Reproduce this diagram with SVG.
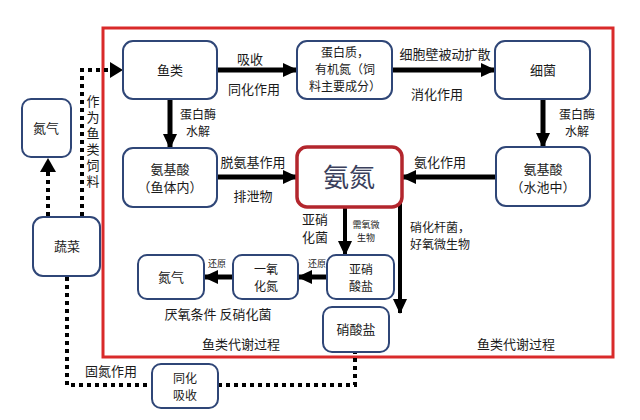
<svg xmlns="http://www.w3.org/2000/svg" width="640" height="420" viewBox="0 0 640 420">
<defs>
<marker id="ah" markerUnits="userSpaceOnUse" markerWidth="16" markerHeight="16" refX="14" refY="8" orient="auto">
<path d="M0,1 L15,8 L0,15 Z" fill="#000"/>
</marker>
<style>
.n rect{fill:#fff;stroke:#2f4677;stroke-width:2}
text{font-family:"Noto Sans CJK SC","Noto Sans",sans-serif;font-size:13px;fill:#1a1a1a;text-anchor:middle}
.m{font-size:12px}
.s{font-size:9px}
.big{font-size:26px;fill:#3a3f5c}
.a{stroke:#000;stroke-width:5;fill:none;marker-end:url(#ah)}
.d{stroke:#000;stroke-width:4;fill:none;stroke-dasharray:4 4}
</style>
</defs>
<rect width="640" height="420" fill="#fff"/>
<rect x="103" y="28" width="510" height="329" fill="none" stroke="#d92a2a" stroke-width="3"/>

<g id="connectors">
<line class="a" x1="217" y1="70" x2="297" y2="70"/>
<line class="a" x1="392" y1="70" x2="495" y2="70"/>
<line class="a" x1="543" y1="99" x2="543" y2="147"/>
<line class="a" x1="496" y1="177" x2="402" y2="177"/>
<line class="a" x1="170" y1="99" x2="170" y2="148"/>
<line class="a" x1="217" y1="177" x2="297" y2="177"/>
<line class="a" x1="345" y1="207" x2="345" y2="255" style="stroke-width:4"/>
<line class="a" x1="400" y1="193" x2="400" y2="313" style="stroke-width:4"/>
<line class="a" x1="327" y1="277" x2="298" y2="277"/>
<line class="a" x1="233" y1="277" x2="204" y2="277"/>
<path class="d" d="M82,216 V70 H110"/>
<path d="M110,62 L123,70 L110,78 Z" fill="#000"/>
<path class="d" d="M48,216 V172"/>
<path d="M40,172 L48,158 L56,172 Z" fill="#000"/>
<path class="d" d="M67,277 V385 H152"/>
<path class="d" d="M218,385 H355 V353"/>
</g>

<g id="fish" class="n"><rect x="123" y="41" width="94" height="58" rx="10"/><text x="170" y="75">鱼类</text></g>
<g id="protein" class="n"><rect x="297" y="41" width="95" height="58" rx="10"/>
<text class="m" x="345" y="57">蛋白质，<tspan x="345" dy="17">有机氮（饲</tspan><tspan x="345" dy="17">料主要成分）</tspan></text></g>
<g id="bacteria" class="n"><rect x="495" y="41" width="95" height="58" rx="10"/><text x="543" y="75">细菌</text></g>
<g id="aa-pond" class="n"><rect x="496" y="147" width="94" height="59" rx="10"/><text x="543" y="174">氨基酸<tspan x="543" dy="18">（水池中）</tspan></text></g>
<g id="ammonia"><rect x="297" y="147" width="105" height="60" rx="10" fill="#fff" stroke="#b3262d" stroke-width="3.5"/><text class="big" x="349" y="187">氨氮</text></g>
<g id="aa-fish" class="n"><rect x="123" y="148" width="94" height="59" rx="10"/><text x="170" y="174">氨基酸<tspan x="170" dy="18">（鱼体内）</tspan></text></g>
<g id="n2-left" class="n"><rect x="22" y="99" width="49" height="58" rx="9"/><text x="46" y="133">氮气</text></g>
<g id="veg" class="n"><rect x="33" y="217" width="67" height="59" rx="10"/><text x="67" y="251">蔬菜</text></g>
<g id="n2" class="n"><rect x="138" y="255" width="66" height="44" rx="9"/><text x="171" y="282">氮气</text></g>
<g id="no" class="n"><rect x="233" y="255" width="65" height="44" rx="9"/><text class="m" x="266" y="274">一氧<tspan x="266" dy="17">化氮</tspan></text></g>
<g id="nitrite" class="n"><rect x="327" y="255" width="67" height="44" rx="9"/><text class="m" x="361" y="274">亚硝<tspan x="361" dy="17">酸盐</tspan></text></g>
<g id="nitrate" class="n"><rect x="323" y="307" width="66" height="45" rx="9"/><text x="356" y="334">硝酸盐</text></g>
<g id="assim" class="n"><rect x="152" y="364" width="66" height="44" rx="9"/><text class="m" x="185" y="383">同化<tspan x="185" dy="17">吸收</tspan></text></g>

<g id="labels">
<text x="250" y="64">吸收</text>
<text x="254" y="94">同化作用</text>
<text x="445" y="59">细胞壁被动扩散</text>
<text x="437" y="99">消化作用</text>
<text class="m" x="577" y="119">蛋白酶<tspan x="577" dy="17">水解</tspan></text>
<text x="440" y="167">氨化作用</text>
<text class="m" x="198" y="119">蛋白酶<tspan x="198" dy="17">水解</tspan></text>
<text x="253" y="167">脱氨基作用</text>
<text x="253" y="201">排泄物</text>
<text x="315" y="224">亚硝<tspan x="315" dy="18">化菌</tspan></text>
<text class="s" x="366" y="228">需氧微<tspan x="366" dy="13">生物</tspan></text>
<text class="m" x="440" y="232">硝化杆菌，<tspan x="440" dy="17">好氧微生物</tspan></text>
<text class="s" x="317" y="267">还原</text>
<text class="s" x="217" y="267">还原</text>
<text x="218" y="319">厌氧条件  反硝化菌</text>
<text x="241" y="349">鱼类代谢过程</text>
<text x="516" y="349">鱼类代谢过程</text>
<text x="111" y="376">固氮作用</text>
<text x="93" y="95" style="writing-mode:vertical-rl;text-anchor:start;letter-spacing:3px">作为鱼类饲料</text>
</g>
</svg>
